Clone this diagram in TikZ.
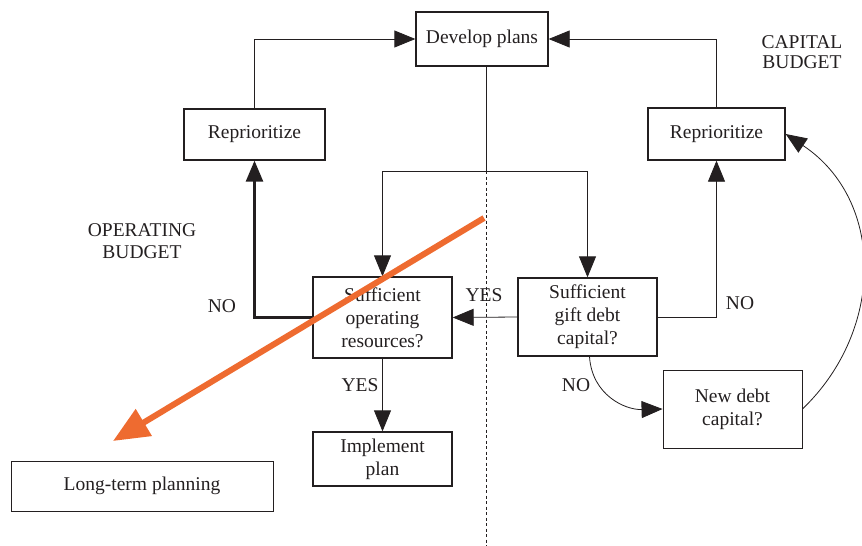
\documentclass[tikz,border=0pt]{standalone}
\usepackage{fontspec}
\setmainfont{Liberation Serif}
\usetikzlibrary{arrows.meta}
\definecolor{ink}{HTML}{231F20}
\definecolor{orng}{HTML}{EE6B30}
\begin{document}
\begin{tikzpicture}[x=1pt,y=-1pt,
  every node/.style={font=\fontsize{19.5}{23}\selectfont, text=ink},
  box/.style={draw=ink, line width=1.3pt, rectangle, inner sep=0pt, align=center},
  arr/.style={draw=ink, line width=0.8pt, -{Triangle[length=21pt,width=17pt]}},
  thin/.style={draw=ink, line width=0.8pt},
  heavy/.style={line width=2.6pt},
  lbl/.style={inner sep=0pt}]
\useasboundingbox (0,0) rectangle (862,546);
% boxes
\node[box, minimum width=132, minimum height=54] (dp) at (482,39) {Develop plans};
\node[box, minimum width=141, minimum height=51] (rl) at (254.5,134.5) {Reprioritize};
\node[box, minimum width=137, minimum height=52] (rr) at (716.5,134) {Reprioritize};
\node[box, minimum width=139, minimum height=81] (op) at (382.5,317.5) {Sufficient\\operating\\resources?};
\node[box, minimum width=139, minimum height=78] (gd) at (587.5,317) {Sufficient\\gift debt\\capital?};
\node[box, minimum width=139, minimum height=54] (ip) at (382.5,459) {Implement\\plan};
\node[box, line width=0.9pt, minimum width=262, minimum height=50] (lt) at (142,486) {Long-term planning};
\node[box, line width=0.9pt, minimum width=139, minimum height=78] (nd) at (732.5,409) {New debt\\capital?};
% labels
\node[lbl] (ob1) at (142,230) {OPERATING};
\node[lbl] (ob2) at (142,252) {BUDGET};
\node[lbl] (cb1) at (802,42) {CAPITAL};
\node[lbl] (cb2) at (802,62) {BUDGET};
\node[lbl] (yes1) at (484,295) {YES};
\node[lbl] (yes2) at (360,385) {YES};
\node[lbl] (no1) at (222,306) {NO};
\node[lbl] (no2) at (740,303) {NO};
\node[lbl] (no3) at (576,385) {NO};
% coordinates
\coordinate (br) at (486,171);
\coordinate (dbot) at (486,546);
\coordinate (oa) at (484,218);
\coordinate (ob) at (113,441);
% connectors
\draw[thin] (dp.south -| br) -- (br);
\draw[arr] (br) -| (op.north);
\draw[arr] (br) -| (gd.north);
\draw[thin, dashed, dash pattern=on 3pt off 2.5pt] (br) -- (dbot);
\draw[arr, heavy] (op.west) -| (rl.south);
\draw[arr] (rl.north) |- (dp.west);
\draw[arr] (rr.north) |- (dp.east);
\draw[arr] (gd.east) -| (rr.south);
\draw[arr] (gd.west) -- (op.east);
\draw[arr] (op.south) -- (ip.north);
\draw[arr] ([xshift=2pt]gd.south) .. controls (592,395) and (625,410) .. (nd.west);
\draw[arr] (nd.east) .. controls (885,330) and (885,200) .. (rr.east);
% orange arrow
\draw[orng, line width=6pt, -{Triangle[length=36pt,width=30pt]}] (oa) -- (ob);
\end{tikzpicture}
\end{document}
